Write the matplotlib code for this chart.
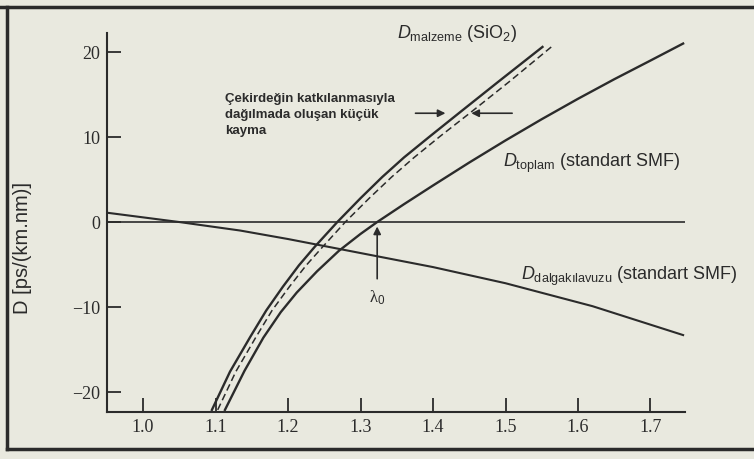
import matplotlib
matplotlib.use("Agg")
import matplotlib.pyplot as plt
from matplotlib.lines import Line2D

plt.rcParams['mathtext.fontset'] = 'custom'
plt.rcParams['mathtext.rm'] = 'Liberation Sans'
plt.rcParams['mathtext.it'] = 'Liberation Sans:italic'

# values (lambda in um, D in ps/(km.nm))
lam_malzeme = [1.095, 1.12, 1.148, 1.17, 1.193, 1.215, 1.237, 1.268, 1.30,
               1.33, 1.36, 1.396, 1.437, 1.49, 1.551]
D_malzeme = [-22.1, -17.6, -13.5, -10.4, -7.6, -5.1, -2.9, 0.0, 2.8,
             5.3, 7.6, 10.1, 12.9, 16.5, 20.6]

lam_kayma = [1.103, 1.128, 1.156, 1.178, 1.202, 1.225, 1.248, 1.279, 1.312,
             1.343, 1.374, 1.41, 1.452, 1.505, 1.566]
D_kayma = [-22.1, -17.6, -13.5, -10.4, -7.6, -5.1, -2.9, 0.0, 2.8,
           5.3, 7.6, 10.1, 12.9, 16.5, 20.8]

lam_toplam = [1.113, 1.14, 1.166, 1.19, 1.212, 1.24, 1.27, 1.30, 1.323,
              1.36, 1.40, 1.45, 1.50, 1.55, 1.60, 1.65, 1.70, 1.745]
D_toplam = [-22.1, -17.5, -13.6, -10.6, -8.3, -5.8, -3.4, -1.4, 0.0,
            2.1, 4.3, 7.0, 9.6, 12.1, 14.5, 16.8, 19.0, 21.0]

lam_dalga = [0.95, 1.05, 1.134, 1.2, 1.285, 1.4, 1.5, 1.62, 1.745]
D_dalga = [1.1, 0.0, -1.0, -2.0, -3.4, -5.3, -7.2, -9.9, -13.3]

xticks = [1.0, 1.1, 1.2, 1.3, 1.4, 1.5, 1.6, 1.7]
yticks = [-20, -10, 0, 10, 20]

bg = '#e9e9df'
ink = '#2b2b2b'

fig = plt.figure(figsize=(7.54, 4.59), dpi=100, facecolor=bg)
ax = fig.add_axes([107 / 754, 1 - 412 / 459, (685 - 107) / 754, (412 - 33) / 459])
ax.set_facecolor(bg)

ax.plot(lam_malzeme, D_malzeme, color=ink, lw=1.7)
ax.plot(lam_kayma, D_kayma, color=ink, lw=1.1, ls=(0, (4.5, 2.5)))
ax.plot(lam_toplam, D_toplam, color=ink, lw=1.7)
ax.plot(lam_dalga, D_dalga, color=ink, lw=1.5)
ax.axhline(0, color=ink, lw=1.2)

ax.set_xlim(0.9503, 1.7476)
ax.set_ylim(-22.35, 22.24)
ax.spines['top'].set_visible(False)
ax.spines['right'].set_visible(False)
for s in ['left', 'bottom']:
    ax.spines[s].set_color(ink)
    ax.spines[s].set_linewidth(1.5)

ax.set_xticks(xticks)
ax.set_xticklabels(['%.1f' % v for v in xticks])
ax.set_yticks(yticks)
ax.set_yticklabels(['\u2212%d' % -v if v < 0 else '%d' % v for v in yticks])
ax.tick_params(direction='in', length=10, width=1.3, color=ink, labelcolor=ink,
               labelsize=13, pad=5)
for lab in ax.get_xticklabels() + ax.get_yticklabels():
    lab.set_fontfamily('Liberation Serif')

ax.set_ylabel('D [ps/(km.nm)]', fontsize=14.5, family='Liberation Sans', color=ink)
ax.yaxis.set_label_coords(-0.13, 0.433)

ax.text(1.350, 22.2, r'$D_{\mathrm{malzeme}}$ (SiO$_2$)', fontsize=13, color=ink,
        va='center', ha='left', family='Liberation Sans')
ax.text(1.497, 6.9, r'$D_{\mathrm{toplam}}$ (standart SMF)', fontsize=13, color=ink,
        va='center', ha='left', family='Liberation Sans')
ax.text(1.522, -6.4, r'$D_{\mathrm{dalgak\i lavuzu}}$ (standart SMF)', fontsize=13,
        color=ink, va='center', ha='left', family='Liberation Sans')

ax.text(1.113, 15.2, 'Çekirdeğin katkılanmasıyla\ndağılmada oluşan küçük\nkayma',
        fontsize=9.5, fontweight='bold', color=ink, va='top', ha='left',
        family='Liberation Sans', linespacing=1.45)

arrow = dict(arrowstyle='-|>', color=ink, lw=1.2, mutation_scale=11)
ax.annotate('', xy=(1.421, 12.8), xytext=(1.372, 12.8), arrowprops=arrow)
ax.annotate('', xy=(1.449, 12.8), xytext=(1.513, 12.8), arrowprops=arrow)
ax.annotate('', xy=(1.323, -0.2), xytext=(1.323, -7.0), arrowprops=arrow)
ax.text(1.323, -8.9, 'λ$_0$', fontsize=12, color=ink, ha='center', va='center',
        family='Liberation Serif')

# scanned page frame
fig.add_artist(Line2D([0, 1], [1 - 7 / 459, 1 - 7 / 459], color=ink, lw=2.5))
fig.add_artist(Line2D([7 / 754, 7 / 754], [1 - 449 / 459, 1 - 7 / 459], color=ink, lw=2.5))
fig.add_artist(Line2D([7 / 754, 1], [1 - 449 / 459, 1 - 449 / 459], color=ink, lw=2.5))

fig.savefig('out.png', dpi=100, facecolor=bg)
